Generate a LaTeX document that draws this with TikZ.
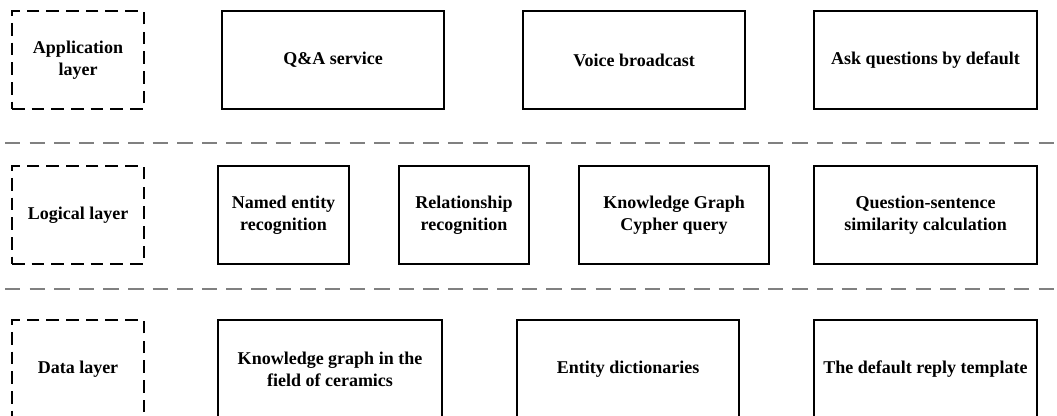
\documentclass[tikz,border=0pt]{standalone}
\usepackage{fontspec}
\setmainfont{Liberation Serif}
\usepackage{tikz}

\tikzset{
	layerbox/.style={draw,line width=1.3pt,dash pattern=on 9pt off 5pt,minimum width=3.3cm,minimum height=2.45cm,align=center},
	modbox/.style={draw,line width=1.3pt,minimum height=2.45cm,align=center},
	sepline/.style={gray,line width=1.3pt,dash pattern=on 11pt off 6.5pt}
}

\begin{document}
\begin{tikzpicture}[x=0.025cm,y=-0.025cm,font=\fontsize{12.8}{15.6}\selectfont\bfseries]
	\useasboundingbox (0,0) rectangle (1057,415);

	% Application layer
	\node[layerbox] (applayer) at (78,60) {Application\\layer};
	\node[modbox,minimum width=5.55cm] (qa) at (333,60) {Q\&A service};
	\node[modbox,minimum width=5.55cm] (voice) at (634,60) {Voice broadcast};
	\node[modbox,minimum width=5.575cm] (ask) at (925.5,60) {Ask questions by default};

	% Separators
	\coordinate (sepa) at (5,143);
	\coordinate (sepb) at (1057,143);
	\coordinate (sepc) at (5,289);
	\coordinate (sepd) at (1057,289);
	\draw[sepline] (sepa) -- (sepb);
	\draw[sepline] (sepc) -- (sepd);

	% Logical layer
	\node[layerbox] (loglayer) at (78,215) {Logical layer};
	\node[modbox,minimum width=3.275cm] (ner) at (283.5,215) {Named entity\\recognition};
	\node[modbox,minimum width=3.25cm] (rel) at (464,215) {Relationship\\recognition};
	\node[modbox,minimum width=4.75cm] (cypher) at (674,215) {Knowledge Graph\\Cypher query};
	\node[modbox,minimum width=5.575cm] (sim) at (925.5,215) {Question-sentence\\similarity calculation};

	% Data layer
	\node[layerbox] (datalayer) at (78,369) {Data layer};
	\node[modbox,minimum width=5.6cm] (kg) at (330,369) {Knowledge graph in the\\field of ceramics};
	\node[modbox,minimum width=5.55cm] (dict) at (628,369) {Entity dictionaries};
	\node[modbox,minimum width=5.575cm] (tmpl) at (925.5,369) {The default reply template};
\end{tikzpicture}
\end{document}
